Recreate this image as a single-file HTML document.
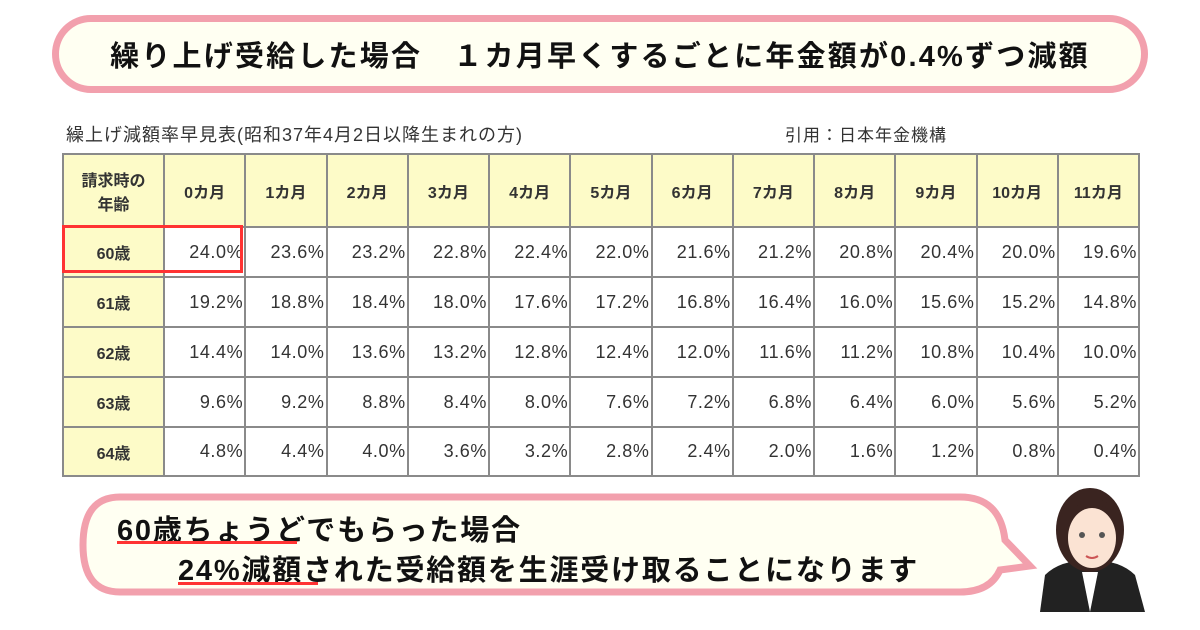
<!DOCTYPE html>
<html><head><meta charset="utf-8">
<style>
body{margin:0;width:1200px;height:630px;background:#fff;position:relative;overflow:hidden;font-family:"Liberation Sans","Noto Sans CJK JP",sans-serif;}
.banner{position:absolute;left:52px;top:15px;width:1082px;height:64px;border:7px solid #f2a0ad;border-radius:40px;background:#fffff2;display:flex;align-items:center;justify-content:center;font-weight:bold;font-size:29px;color:#111;letter-spacing:2.2px;}
.cap{position:absolute;top:121px;font-size:18px;color:#333;letter-spacing:1px;}
table{position:absolute;left:62px;top:153px;border-collapse:collapse;}
td{border:2px solid #8a8a8a;width:77px;height:46px;font-size:18px;color:#333;text-align:right;padding:0 1px 0 0;box-sizing:border-box;letter-spacing:0.6px;}
tr.h td{height:73px;background:#fdfbc8;text-align:center;font-weight:bold;font-size:16px;padding:0;letter-spacing:0;}
td.a{background:#fdfbc8;text-align:center;font-weight:bold;font-size:16px;width:101px;padding:0;letter-spacing:0;}
.red{position:absolute;left:62px;top:225px;width:181px;height:48px;border:3px solid #f33;box-sizing:border-box;}
.l1,.l2{position:absolute;font-weight:bold;font-size:29px;color:#111;letter-spacing:1.8px;}
.ul{position:absolute;height:3px;background:#f33;}
</style></head><body>
<div class="banner">繰り上げ受給した場合　１カ月早くするごとに年金額が0.4%ずつ減額</div>
<div class="cap" style="left:66px">繰上げ減額率早見表(昭和37年4月2日以降生まれの方)</div>
<div class="cap" style="left:785px;font-size:17px">引用：日本年金機構</div>
<table id="t"></table>
<div class="red"></div>
<svg style="position:absolute;left:0;top:0" width="1200" height="630">
<path d="M120 497 H960 Q1000 497 1005 540 L1030 566 L1000 570 Q990 592 960 592 H120 Q83 592 83 545 Q83 497 120 497 Z" fill="#fffff2" stroke="#f2a0ad" stroke-width="7"/>
<g>
<path d="M1040 612 L1045 575 Q1060 560 1090 560 Q1120 560 1135 575 L1145 612 Z" fill="#222"/>
<path d="M1082 572 L1090 612 L1098 572 Z" fill="#fff"/>
<ellipse cx="1090" cy="530" rx="34" ry="42" fill="#3a2420"/>
<ellipse cx="1092" cy="538" rx="24" ry="30" fill="#fbe3d3"/>
<path d="M1060 520 Q1080 490 1120 515 Q1110 500 1090 497 Q1065 500 1060 520Z" fill="#3a2420"/>
<circle cx="1082" cy="535" r="3" fill="#555"/><circle cx="1102" cy="535" r="3" fill="#555"/>
<path d="M1086 556 Q1092 560 1098 556" stroke="#c55" stroke-width="2" fill="none"/>
</g>
</svg>
<div class="l1" style="left:117px;top:507px">60歳ちょうどでもらった場合</div>
<div class="l2" style="left:178px;top:547px">24%減額された受給額を生涯受け取ることになります</div>
<div class="ul" style="left:117px;top:541px;width:180px"></div>
<div class="ul" style="left:178px;top:582px;width:140px"></div>
<script>
const months=["0カ月","1カ月","2カ月","3カ月","4カ月","5カ月","6カ月","7カ月","8カ月","9カ月","10カ月","11カ月"];
const ages=["60歳","61歳","62歳","63歳","64歳"];
const rates=[
[24.0,23.6,23.2,22.8,22.4,22.0,21.6,21.2,20.8,20.4,20.0,19.6],
[19.2,18.8,18.4,18.0,17.6,17.2,16.8,16.4,16.0,15.6,15.2,14.8],
[14.4,14.0,13.6,13.2,12.8,12.4,12.0,11.6,11.2,10.8,10.4,10.0],
[9.6,9.2,8.8,8.4,8.0,7.6,7.2,6.8,6.4,6.0,5.6,5.2],
[4.8,4.4,4.0,3.6,3.2,2.8,2.4,2.0,1.6,1.2,0.8,0.4]];
const t=document.getElementById('t');
let h=document.createElement('tr');h.className='h';
let c=document.createElement('td');c.innerHTML='請求時の<br>年齢';c.style.width='101px';


h.appendChild(c);
months.forEach(m=>{const d=document.createElement('td');d.textContent=m;
d.style.width='81.25px';


h.appendChild(d);});
t.appendChild(h);
ages.forEach((a,i)=>{const r=document.createElement('tr');
const d=document.createElement('td');d.className='a';d.textContent=a;


r.appendChild(d);
rates[i].forEach(v=>{const e=document.createElement('td');e.textContent=v.toFixed(1)+'%';


r.appendChild(e);});
r.style.height=(i==4?49:50)+'px';
t.appendChild(r);});
</script>
</body></html>
